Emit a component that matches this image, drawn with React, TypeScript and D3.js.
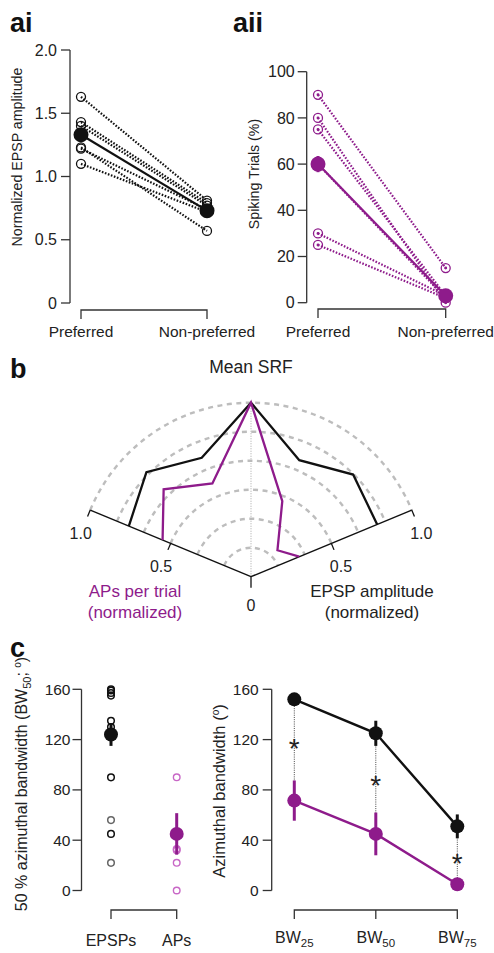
import React from 'react';
import * as d3 from 'd3';

const W = 494;
const H = 953;
const FONT = 'Liberation Sans, Arial, Helvetica, sans-serif';
const PURPLE = '#8e1b8b';
const LIGHT_PURPLE = '#c867c6';
const AXIS = '#333333';

// panel ai - normalized EPSP amplitude
const aiConditions = ['Preferred', 'Non-preferred'];
const aiPreferred = [1.63, 1.43, 1.40, 1.23, 1.22, 1.10];
const aiNonPreferred = [0.81, 0.79, 0.77, 0.57, 0.74, 0.72];
const aiMean = [1.33, 0.73];
const aiErr = [0.05, 0.03];
const aiTicks = [0, 0.5, 1.0, 1.5, 2.0];

// panel aii - spiking trials (%)
const aiiPreferred = [90, 80, 75, 60, 30, 25];
const aiiNonPreferred = [15, 0, 3, 2, 3, 2];
const aiiMean = [60, 3];
const aiiErr = [3.5, 1.5];
const aiiTicks = [0, 20, 40, 60, 80, 100];

// panel b - mean SRF (angle from vertical, deg)
const srfAngles = [-67.5, -45, -22.5, 0, 22.5, 45, 67.5];
const srfEpsp = [0.76, 0.85, 0.74, 1.0, 0.725, 0.83, 0.785];
const srfAps = [0.55, 0.71, 0.58, 1.0, 0.47, 0.215, 0.30];
const srfRings = [1 / 6, 2 / 6, 3 / 6, 4 / 6, 5 / 6, 1];
const srfTicks = [0.5, 1.0];

// panel c left - BW50 per cell
const bwGroups = ['EPSPs', 'APs'];
const bwEpsps = [160, 159, 157, 155, 135, 130, 90, 56, 45, 22];
const bwAps = [90, 33, 32, 22, 0];
const bwGroupMean = [124, 45];
const bwGroupErr = [9, 16.5];
const bwTicks = [0, 40, 80, 120, 160];

// panel c right - bandwidth by level
const bwLevels = ['25', '50', '75'];
const bwEpspMean = [152, 125, 51];
const bwEpspErr = [3, 10, 9.5];
const bwApMean = [71.5, 45, 5];
const bwApErr = [16, 17, 3];
const bwSigY = [117, 88, 25.5];

const rad = (deg: number) => (deg * Math.PI) / 180;

function YAxis({x, scale, ticks, fmt, fontSize, labelGap}: any) {
    const [r0, r1] = scale.range();
    return (
        <g>
            <line x1={x} x2={x} y1={r0} y2={r1} stroke={AXIS} strokeWidth={1.3}/>
            {ticks.map((t: number) => (
                <g key={t}>
                    <line x1={x - 9} x2={x} y1={scale(t)} y2={scale(t)} stroke={AXIS} strokeWidth={1.3}/>
                    <text x={x - labelGap} y={scale(t)} dy="0.35em" textAnchor="end"
                          fontSize={fontSize} fill="#222">{fmt(t)}</text>
                </g>
            ))}
        </g>
    );
}

function Bracket({xs, y}: any) {
    const x0 = d3.min(xs) as number;
    const x1 = d3.max(xs) as number;
    return (
        <g fill="none" stroke={AXIS} strokeWidth={1.3}>
            <path d={`M${x0},${y + 9}V${y}H${x1}V${y + 9}`}/>
            {xs.slice(1, -1).map((x: number) => <line key={x} x1={x} x2={x} y1={y} y2={y + 9}/>)}
        </g>
    );
}

function PairedPanel({xScale, yScale, pre, post, mean, err, color, dot}: any) {
    const x0 = xScale(0);
    const x1 = xScale(1);
    return (
        <g>
            {pre.map((v: number, i: number) => (
                <line key={'l' + i} x1={x0} y1={yScale(v)} x2={x1} y2={yScale(post[i])}
                      stroke={color} strokeWidth={2.2} strokeDasharray="1.6 1.6"/>
            ))}
            {pre.map((v: number, i: number) => (
                <g key={'c' + i} fill="none" stroke={color} strokeWidth={1.3}>
                    <circle cx={x0} cy={yScale(v)} r={4.5}/>
                    <circle cx={x1} cy={yScale(post[i])} r={4.5}/>
                    {dot && <circle cx={x0} cy={yScale(v)} r={0.8} fill={color}/>}
                    {dot && <circle cx={x1} cy={yScale(post[i])} r={0.8} fill={color}/>}
                </g>
            ))}
            <line x1={x0} y1={yScale(mean[0])} x2={x1} y2={yScale(mean[1])} stroke={color} strokeWidth={2.2}/>
            {mean.map((m: number, i: number) => (
                <g key={'m' + i}>
                    <line x1={xScale(i)} x2={xScale(i)} y1={yScale(m - err[i])} y2={yScale(m + err[i])}
                          stroke={color} strokeWidth={3}/>
                    <circle cx={xScale(i)} cy={yScale(m)} r={7.5} fill={color}/>
                </g>
            ))}
        </g>
    );
}

export default function App() {
    // ai
    const aiY = d3.scaleLinear().domain([0, 2]).range([303, 50]);
    const aiX = d3.scaleLinear().domain([0, 1]).range([81, 207]);
    // aii
    const aiiY = d3.scaleLinear().domain([0, 100]).range([302.7, 71.7]);
    const aiiX = d3.scaleLinear().domain([0, 1]).range([318, 445.7]);

    // b
    const cx = 251;
    const cy = 576.7;
    const R = d3.scaleLinear().domain([0, 1]).range([0, 174]);
    const radial = d3.lineRadial<number>()
        .angle((d, i) => rad(srfAngles[i]))
        .radius(d => R(d));
    const ringPath = (r: number) => {
        const p = d3.path();
        p.arc(cx, cy, R(r), rad(-90 - 67.5), rad(-90 + 67.5));
        return p.toString();
    };
    const polar = (r: number, deg: number) => [cx + R(r) * Math.sin(rad(deg)), cy - R(r) * Math.cos(rad(deg))];

    // c
    const cY = d3.scaleLinear().domain([0, 160]).range([890.5, 689.3]);
    const cLX = d3.scalePoint<string>().domain(bwGroups).range([111, 176.7]);
    const cRX = d3.scalePoint<string>().domain(bwLevels).range([294.3, 457.3]);
    const epspLine = d3.line<number>().x((d, i) => cRX(bwLevels[i]) as number).y(d => cY(d));

    const subLabel = (lvl: string, x: number) => (
        <text key={lvl} x={x} y={943} textAnchor="middle" fontSize={16} fill="#222">
            BW<tspan fontSize={11.5} dy={4}>{lvl}</tspan>
        </text>
    );

    return (
        <svg width={W} height={H} style={{position: 'absolute', left: 0, top: 0, background: '#fff'}}
             fontFamily={FONT}>
            {/* panel letters */}
            <g fontSize={27} fontWeight="bold" fill="#111">
                <text x={10} y={32}>ai</text>
                <text x={233} y={32}>aii</text>
                <text x={10} y={378}>b</text>
                <text x={10} y={657}>c</text>
            </g>

            {/* ai */}
            <YAxis x={70} scale={aiY} ticks={aiTicks} fontSize={16} labelGap={13}
                   fmt={(t: number) => (t === 0 ? '0' : t.toFixed(1))}/>
            <text transform="translate(22,157) rotate(-90)" textAnchor="middle" fontSize={14.2} fill="#222">
                Normalized EPSP amplitude
            </text>
            <Bracket xs={[aiX(0), aiX(1)]} y={310}/>
            {aiConditions.map((c, i) => (
                <text key={c} x={aiX(i)} y={337} textAnchor="middle" fontSize={15.5} fill="#222">{c}</text>
            ))}
            <PairedPanel xScale={aiX} yScale={aiY} pre={aiPreferred} post={aiNonPreferred}
                         mean={aiMean} err={aiErr} color="#111" dot={false}/>

            {/* aii */}
            <YAxis x={306.7} scale={aiiY} ticks={aiiTicks} fontSize={16} labelGap={12}
                   fmt={(t: number) => String(t)}/>
            <text transform="translate(259,174) rotate(-90)" textAnchor="middle" fontSize={14.2} fill="#222">
                Spiking Trials (%)
            </text>
            <Bracket xs={[aiiX(0), aiiX(1)]} y={309}/>
            {aiConditions.map((c, i) => (
                <text key={c} x={aiiX(i)} y={337} textAnchor="middle" fontSize={15.5} fill="#222">{c}</text>
            ))}
            <PairedPanel xScale={aiiX} yScale={aiiY} pre={aiiPreferred} post={aiiNonPreferred}
                         mean={aiiMean} err={aiiErr} color={PURPLE} dot={true}/>

            {/* b */}
            <text x={cx} y={373} textAnchor="middle" fontSize={17.5} fill="#222">Mean SRF</text>
            {srfRings.map(r => (
                <path key={r} d={ringPath(r)} fill="none" stroke="#bdbdbd" strokeWidth={2.4}
                      strokeDasharray="5 4.5"/>
            ))}
            <line x1={cx} y1={cy} x2={cx} y2={cy - R(1)} stroke="#b5b5b5" strokeWidth={1.2}
                  strokeDasharray="1 1.5"/>
            {[-67.5, 67.5].map(a => {
                const [ex, ey] = polar(1, a);
                return <line key={a} x1={cx} y1={cy} x2={ex} y2={ey} stroke="#111" strokeWidth={1.4}/>;
            })}
            {[-67.5, 67.5].map(a => srfTicks.map(t => {
                const [tx, ty] = polar(t, a);
                const s = a < 0 ? -1 : 1;
                const nx = s * Math.cos(rad(67.5));
                const ny = Math.sin(rad(67.5));
                return (
                    <g key={a + '-' + t}>
                        <line x1={tx} y1={ty} x2={tx + nx * 7} y2={ty + ny * 7} stroke="#111" strokeWidth={1.3}/>
                        <text x={tx + nx * 25} y={ty + ny * 25} dy="0.35em" textAnchor="middle"
                              fontSize={16} fill="#222">{t.toFixed(1)}</text>
                    </g>
                );
            }))}
            <line x1={cx} y1={cy} x2={cx} y2={cy + 11} stroke="#111" strokeWidth={1.3}/>
            <text x={cx} y={605} dy="0.35em" textAnchor="middle" fontSize={16} fill="#222">0</text>
            <g transform={`translate(${cx},${cy})`} fill="none" strokeWidth={2.3} strokeLinejoin="miter">
                <path d={radial(srfEpsp) || ''} stroke="#111"/>
                <path d={radial(srfAps) || ''} stroke={PURPLE}/>
            </g>
            <g fontSize={17} textAnchor="middle">
                <text x={135} y={597} fill={PURPLE}>APs per trial</text>
                <text x={135} y={618} fill={PURPLE}>(normalized)</text>
                <text x={372} y={597} fill="#222">EPSP amplitude</text>
                <text x={372} y={618} fill="#222">(normalized)</text>
            </g>

            {/* c left */}
            <YAxis x={81.5} scale={cY} ticks={bwTicks} fontSize={15.5} labelGap={11}
                   fmt={(t: number) => String(t)}/>
            <text transform="translate(27,784) rotate(-90)" textAnchor="middle" fontSize={16} fill="#222">
                50 % azimuthal bandwidth (BW<tspan fontSize={11} dy={4}>50</tspan>
                <tspan dy={-4}>; </tspan><tspan fontSize={10} dy={-6}>o</tspan><tspan dy={6}>)</tspan>
            </text>
            <Bracket xs={[cLX('EPSPs') as number, cLX('APs') as number]} y={910}/>
            {bwGroups.map(g => (
                <text key={g} x={cLX(g)} y={946} textAnchor="middle" fontSize={16} fill="#222">{g}</text>
            ))}
            {bwEpsps.map((v, i) => (
                <circle key={'e' + i} cx={cLX('EPSPs')} cy={cY(v)} r={3.3} fill="none"
                        stroke={v < 60 && v !== 45 ? '#666' : '#111'} strokeWidth={1.5}/>
            ))}
            {bwAps.map((v, i) => (
                <circle key={'a' + i} cx={cLX('APs')} cy={cY(v)} r={3.3} fill="none"
                        stroke={LIGHT_PURPLE} strokeWidth={1.4}/>
            ))}
            {bwGroups.map((g, i) => {
                const col = i === 0 ? '#111' : PURPLE;
                return (
                    <g key={g}>
                        <line x1={cLX(g)} x2={cLX(g)} y1={cY(bwGroupMean[i] - bwGroupErr[i])}
                              y2={cY(bwGroupMean[i] + bwGroupErr[i])} stroke={col} strokeWidth={3}/>
                        <circle cx={cLX(g)} cy={cY(bwGroupMean[i])} r={7} fill={col}/>
                    </g>
                );
            })}

            {/* c right */}
            <YAxis x={271.7} scale={cY} ticks={bwTicks} fontSize={15.5} labelGap={13}
                   fmt={(t: number) => String(t)}/>
            <text transform="translate(225,791) rotate(-90)" textAnchor="middle" fontSize={16.5} fill="#222">
                Azimuthal bandwidth (<tspan fontSize={10} dy={-6}>o</tspan><tspan dy={6}>)</tspan>
            </text>
            <Bracket xs={bwLevels.map(l => cRX(l) as number)} y={910}/>
            {bwLevels.map(l => subLabel(l, cRX(l) as number))}
            {bwLevels.map((l, i) => (
                <line key={'d' + l} x1={cRX(l)} x2={cRX(l)} y1={cY(bwEpspMean[i])} y2={cY(bwApMean[i])}
                      stroke="#444" strokeWidth={1} strokeDasharray="1 1.2"/>
            ))}
            <path d={epspLine(bwEpspMean) || ''} fill="none" stroke="#111" strokeWidth={2.4}/>
            <path d={epspLine(bwApMean) || ''} fill="none" stroke={PURPLE} strokeWidth={2.4}/>
            {bwLevels.map((l, i) => (
                <g key={'m' + l}>
                    <line x1={cRX(l)} x2={cRX(l)} y1={cY(bwEpspMean[i] - bwEpspErr[i])}
                          y2={cY(bwEpspMean[i] + bwEpspErr[i])} stroke="#111" strokeWidth={3}/>
                    <circle cx={cRX(l)} cy={cY(bwEpspMean[i])} r={7} fill="#111"/>
                    <line x1={cRX(l)} x2={cRX(l)} y1={cY(bwApMean[i] - bwApErr[i])}
                          y2={cY(bwApMean[i] + bwApErr[i])} stroke={PURPLE} strokeWidth={3}/>
                    <circle cx={cRX(l)} cy={cY(bwApMean[i])} r={7} fill={PURPLE}/>
                    <text x={cRX(l)} y={cY(bwSigY[i]) + 15} textAnchor="middle" fontSize={28} fill="#222">*</text>
                </g>
            ))}
        </svg>
    );
}
